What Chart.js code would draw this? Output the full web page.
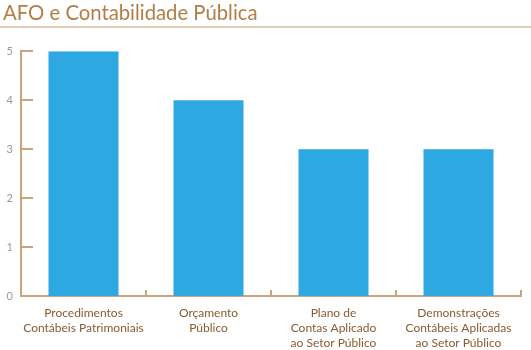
<!DOCTYPE html>
<html>
<head>
<meta charset="utf-8">
<script src="https://cdn.jsdelivr.net/npm/chart.js@4/dist/chart.umd.min.js"></script>
<style>
  html, body { margin: 0; padding: 0; background: #ffffff; }
  #wrap { width: 531px; height: 350px; }
</style>
</head>
<body>
<div id="wrap"><canvas id="chart" width="531" height="350"></canvas></div>
<script>
const chartTitle = 'AFO e Contabilidade Pública';
const categories = [
  ['Procedimentos', 'Contábeis Patrimoniais'],
  ['Orçamento', 'Público'],
  ['Plano de', 'Contas Aplicado', 'ao Setor Público'],
  ['Demonstrações', 'Contábeis Aplicadas', 'ao Setor Público']
];
const seriesValues = [5, 4, 3, 3];
const yTicks = [0, 1, 2, 3, 4, 5];

const AXIS_COLOR = '#c9a47c';
const FONT = 'Lato, "Open Sans", sans-serif';

// Title underline plus short tick marks that point into the plot area
const decorations = {
  id: 'decorations',
  afterDraw(chart) {
    const { ctx, chartArea, scales } = chart;
    ctx.save();
    ctx.strokeStyle = '#d4bca3';
    ctx.lineWidth = 1.5;
    ctx.beginPath();
    ctx.moveTo(0, 27);
    ctx.lineTo(chart.width, 27);
    ctx.stroke();

    ctx.strokeStyle = AXIS_COLOR;
    ctx.lineWidth = 2;
    const y = scales.y, x = scales.x;
    yTicks.forEach(v => {
      const py = Math.round(y.getPixelForValue(v));
      ctx.beginPath();
      ctx.moveTo(chartArea.left, py);
      ctx.lineTo(chartArea.left + 12, py);
      ctx.stroke();
    });
    for (let i = 0; i <= categories.length; i++) {
      const px = Math.round(x.getPixelForValue(i - 0.5));
      ctx.beginPath();
      ctx.moveTo(px, chartArea.bottom);
      ctx.lineTo(px, chartArea.bottom - 6);
      ctx.stroke();
    }
    ctx.restore();
  }
};

new Chart(document.getElementById('chart'), {
  type: 'bar',
  data: {
    labels: categories,
    datasets: [{
      data: seriesValues,
      backgroundColor: '#2ea8e1',
      borderWidth: 0,
      barPercentage: 0.56,
      categoryPercentage: 1.0
    }]
  },
  options: {
    responsive: false,
    animation: false,
    layout: { padding: { left: 3, right: 10, top: 0, bottom: 0 } },
    plugins: {
      legend: { display: false },
      tooltip: { enabled: false },
      title: {
        display: true,
        text: chartTitle,
        align: 'start',
        color: '#b27d47',
        font: { family: FONT, size: 20.3, weight: 'normal' },
        padding: { top: 1, bottom: 26 }
      }
    },
    scales: {
      x: {
        grid: { display: false, drawTicks: false },
        border: { display: true, color: AXIS_COLOR, width: 2 },
        ticks: {
          color: '#8a5a30',
          font: { family: FONT, size: 12, lineHeight: 1.25 },
          padding: 10,
          maxRotation: 0,
          autoSkip: false
        },
        afterFit(scale) { scale.height = 54; }
      },
      y: {
        min: 0,
        max: 5,
        grid: { display: false, drawTicks: false },
        border: { display: true, color: AXIS_COLOR, width: 2 },
        ticks: {
          stepSize: 1,
          color: '#9a9a9a',
          font: { family: FONT, size: 11 },
          padding: 8,
          align: 'center'
        },
        afterFit(scale) { scale.width = 18; }
      }
    }
  },
  plugins: [decorations]
});
</script>
</body>
</html>
